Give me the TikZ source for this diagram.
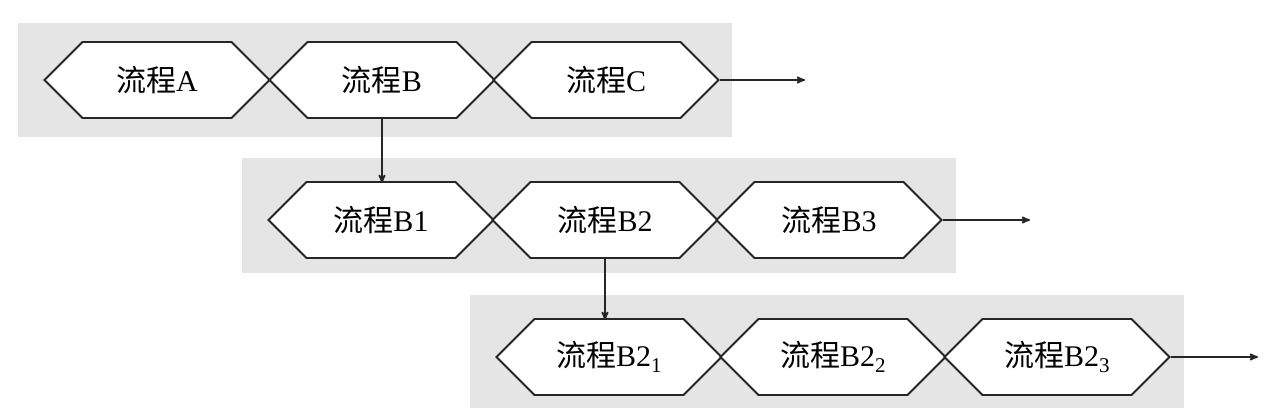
\documentclass[tikz,border=0pt]{standalone}
\usepackage{fontspec}
\setmainfont{Liberation Serif}
\newfontfamily\cjk{Noto Sans CJK SC}
\usetikzlibrary{shapes.symbols, arrows}

\begin{document}
\begin{tikzpicture}[x=1pt,y=-1pt,>=stealth',
  hex/.style={signal, signal to=east and west, draw=black!85, fill=white, line width=1.8pt,
    minimum width=225pt, minimum height=76pt, inner sep=0pt, font=\fontsize{30}{31}\selectfont},
  band/.style={fill=black!10, draw=none},
  link/.style={->, line width=1.8pt, draw=black!85, shorten >=-2pt}]
  \useasboundingbox (0,0) rectangle (1280,419);
  % rows
  \fill[band] (18,23) rectangle (732,137);
  \fill[band] (242,158) rectangle (956,273);
  \fill[band] (470,295) rectangle (1184,408);

  \node[hex] (pa) at (157,80) {{\cjk 流程}A};
  \node[hex] (pb) at (382,80) {{\cjk 流程}B};
  \node[hex] (pc) at (606,80) {{\cjk 流程}C};
  \coordinate (ea) at (803,80);
  \draw[link] (pc.east) -- (ea);

  \node[hex] (pb1) at (381,220) {{\cjk 流程}B1};
  \node[hex] (pb2) at (605,220) {{\cjk 流程}B2};
  \node[hex] (pb3) at (829,220) {{\cjk 流程}B3};
  \coordinate (eb) at (1028,220);
  \draw[link] (pb3.east) -- (eb);

  \node[hex] (pc1) at (609,357) {{\cjk 流程}B2\textsubscript{1}};
  \node[hex] (pc2) at (833,357) {{\cjk 流程}B2\textsubscript{2}};
  \node[hex] (pc3) at (1057,357) {{\cjk 流程}B2\textsubscript{3}};
  \coordinate (ec) at (1256,357);
  \draw[link] (pc3.east) -- (ec);

  \draw[link] (pb.south) -- (pb.south |- pb1.north);
  \draw[link] (pb2.south) -- (pb2.south |- pc1.north);
\end{tikzpicture}
\end{document}
